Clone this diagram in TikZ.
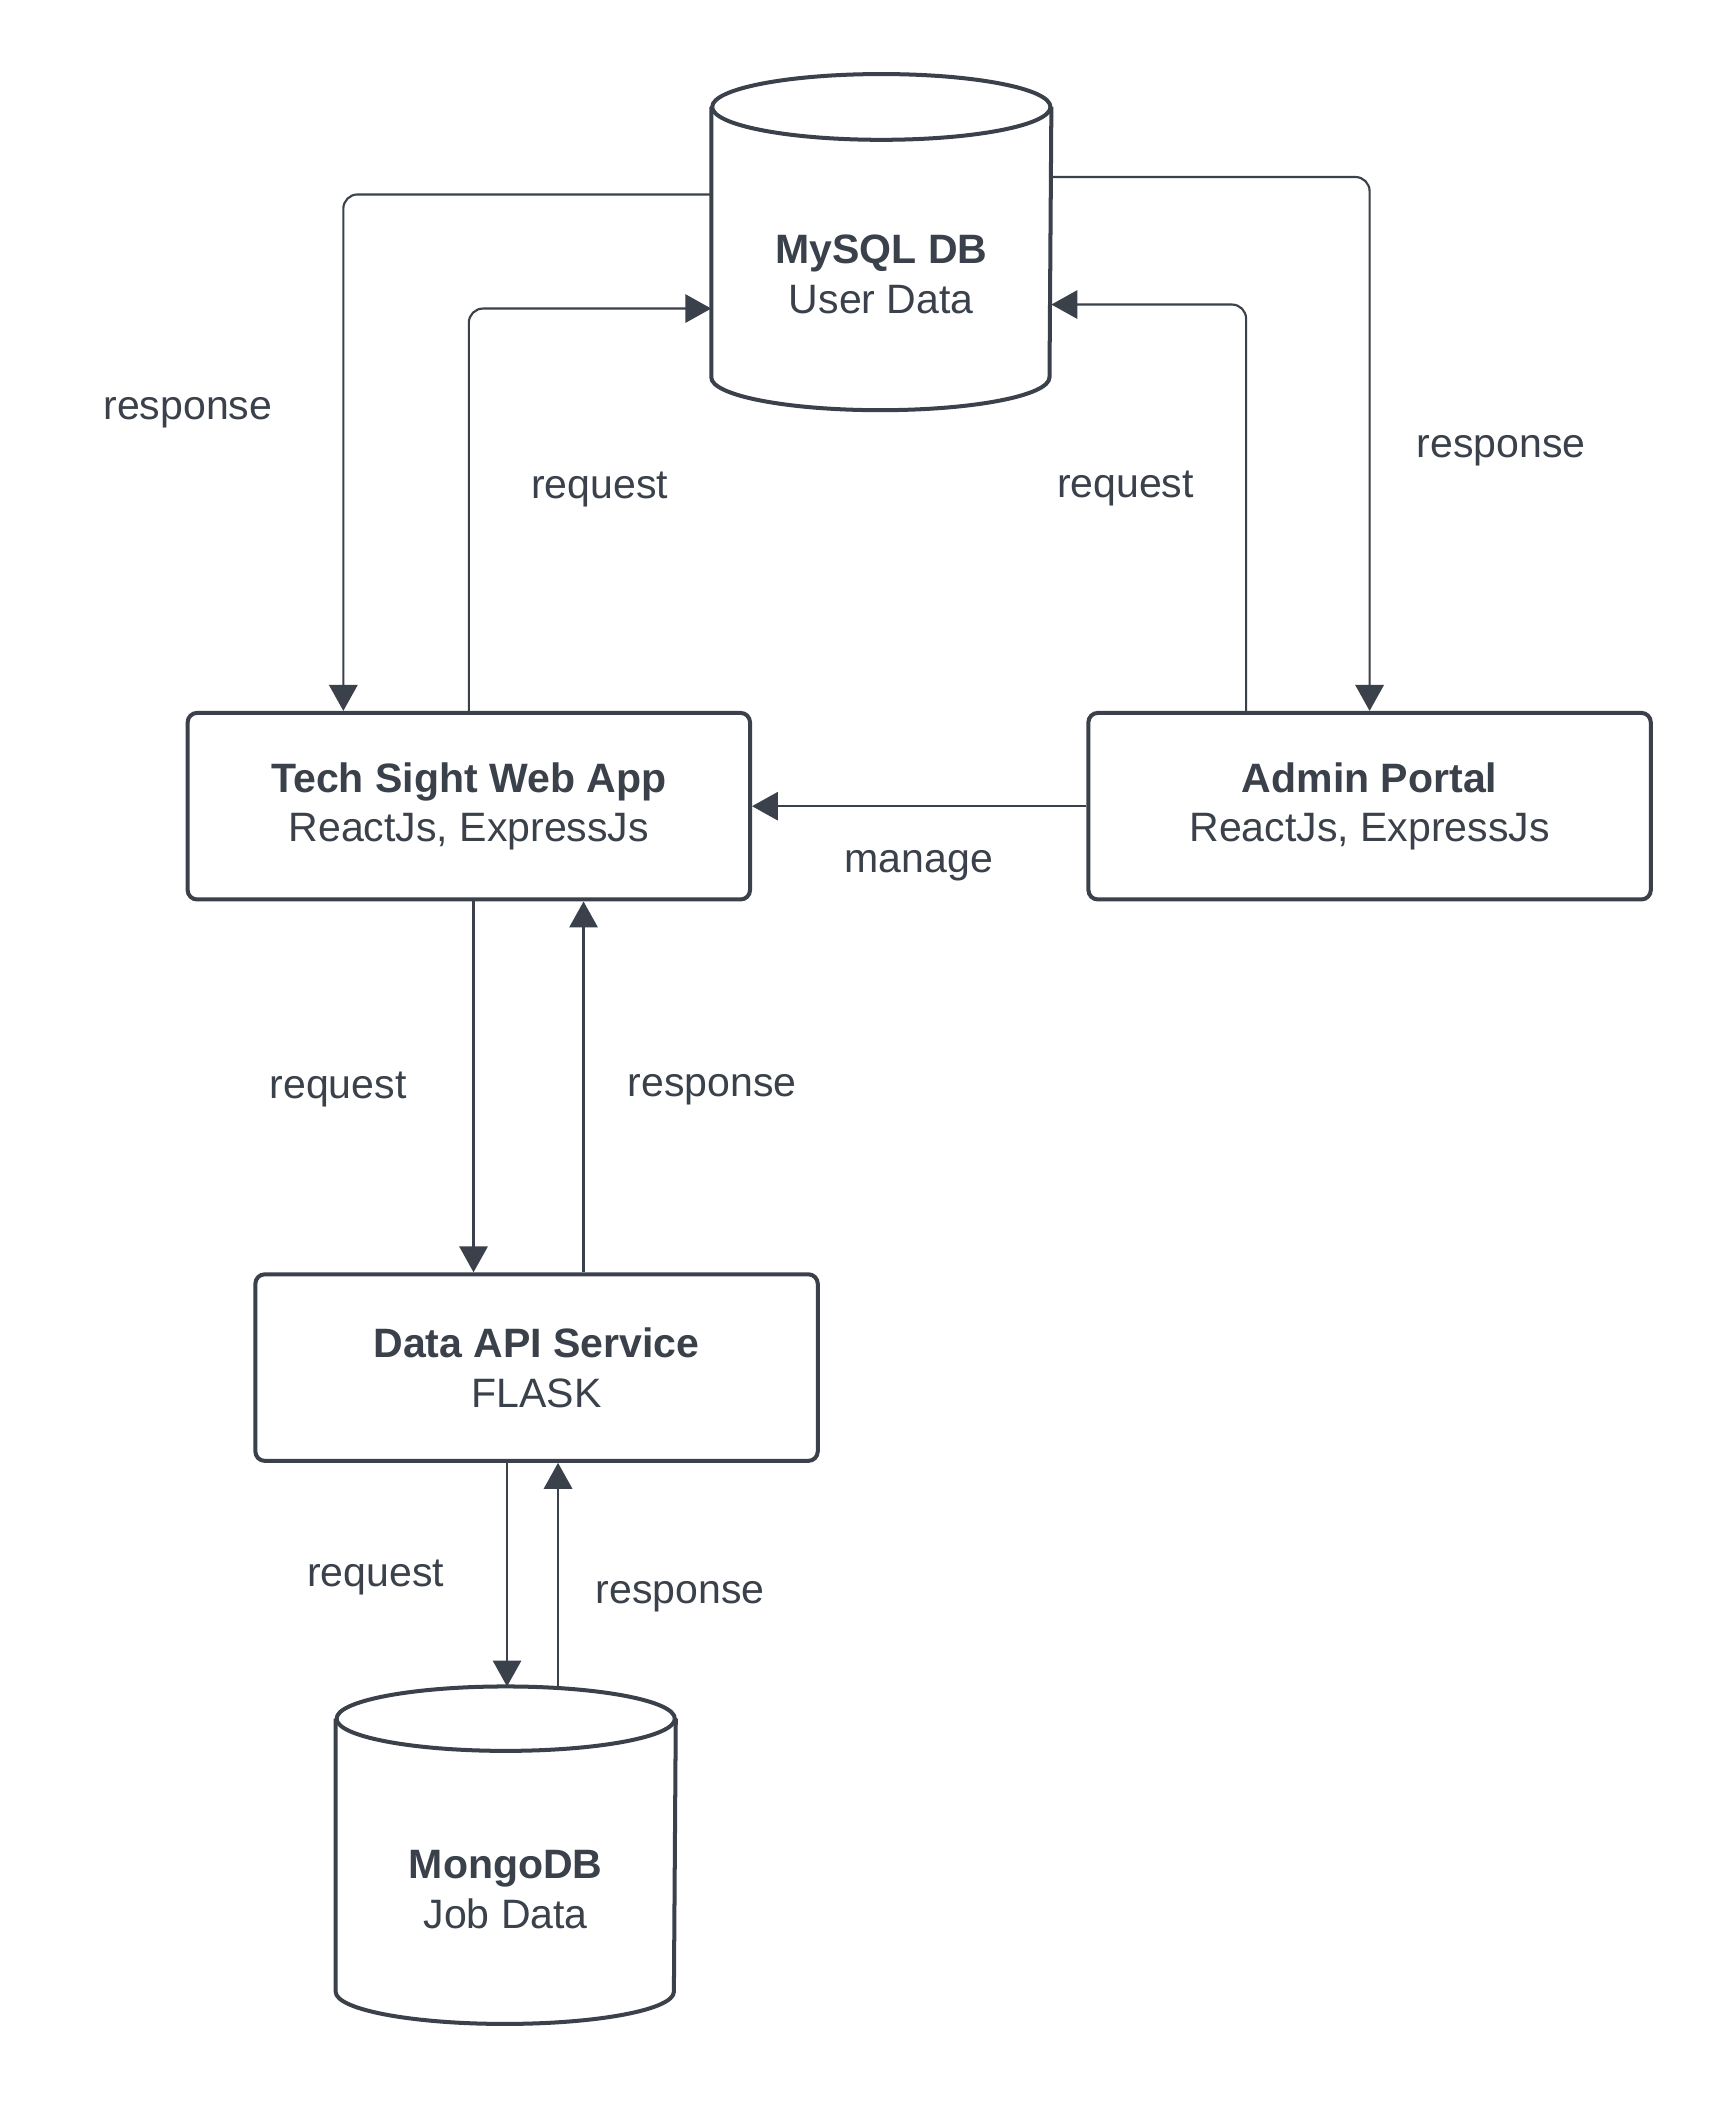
\documentclass[tikz,border=0pt]{standalone}
\usepackage{fontspec}
\setmainfont{Liberation Sans}
\usetikzlibrary{arrows.meta,calc}
\definecolor{ink}{HTML}{3A414A}

\begin{document}
\begin{tikzpicture}[x=0.01cm, y=0.01cm,
                    every node/.style={text=ink, font=\fontsize{8.7}{10.5}\selectfont},
                    main node/.style={rectangle, draw=ink, line width=0.85pt, rounded corners=2pt,
                                      minimum width=4.19cm, minimum height=1.39cm, align=center},
                    db node/.style={rectangle, minimum width=2.52cm, minimum height=2.49cm, inner sep=0pt},
                    db text/.style={align=center},
                    db line/.style={draw=ink, line width=0.85pt, fill=white},
                    link/.style={draw=ink, line width=0.45pt, rounded corners=3pt,
                                 -{Triangle[length=5.5pt,width=6pt]}}]

  \fill[white] (0,0) rectangle (1286,-1567);
  \useasboundingbox (0,0) rectangle (1286,-1567);

  \node[main node] (web) at (349.5,-601) {\textbf{Tech Sight Web App}\\ReactJs, ExpressJs};
  \node[main node] (admin) at (1021,-601) {\textbf{Admin Portal}\\ReactJs, ExpressJs};
  \node[main node] (api) at (400,-1019.5) {\textbf{Data API Service}\\FLASK};
  \node[db node] (mysql) at (657,-180.5) {};
  \node[db node, minimum height=2.5cm] (mongo) at (377,-1383) {};

  % cylinders
  \draw[db line] ($(mysql.north west)+(0,-24.5)$) -- ($(mysql.south west)+(0,24.5)$)
      arc[start angle=180, end angle=360, x radius=1.26cm, y radius=0.245cm]
      -- ($(mysql.north east)+(0,-24.5)$);
  \draw[db line] ($(mysql.north)+(0,-24.5)$) ellipse[x radius=1.26cm, y radius=0.245cm];
  \draw[db line] ($(mongo.north west)+(0,-24)$) -- ($(mongo.south west)+(0,24)$)
      arc[start angle=180, end angle=360, x radius=1.26cm, y radius=0.24cm]
      -- ($(mongo.north east)+(0,-24)$);
  \draw[db line] ($(mongo.north)+(0,-24)$) ellipse[x radius=1.26cm, y radius=0.24cm];

  \node[db text] (mysqltxt) at ($(mysql.center)+(0,-24)$) {\textbf{MySQL DB}\\User Data};
  \node[db text] (mongotxt) at ($(mongo.center)+(0,-25.5)$) {\textbf{MongoDB}\\Job Data};

  % connectors
  \draw[link] ([yshift=0.355cm]mysql.west) -| ([xshift=-0.935cm]web.north);
  \draw[link] (web.north) |- ([yshift=-0.495cm]mysql.west);
  \draw[link] ([yshift=0.485cm]mysql.east) -| (admin.north);
  \draw[link] ([xshift=-0.92cm]admin.north) |- ([yshift=-0.465cm]mysql.east);
  \draw[link] (admin.west) -- (web.east);
  \draw[link] ([xshift=0.035cm]web.south) -- ([xshift=0.035cm]web.south |- api.north);
  \draw[link] ([xshift=0.35cm]api.north) -- ([xshift=0.35cm]api.north |- web.south);
  \draw[link] ([xshift=-0.22cm]api.south) -- ([xshift=-0.22cm]api.south |- mongo.north);
  \draw[link] ([xshift=0.16cm]api.south |- mongo.north) -- ([xshift=0.16cm]api.south);

  % labels
  \node (resp1) at (140,-308) {response};
  \node (req1) at (447,-365) {request};
  \node (req2) at (839,-364) {request};
  \node (resp2) at (1119,-336) {response};
  \node (manage) at (685,-645) {manage};
  \node (req3) at (252,-812) {request};
  \node (resp3) at (531,-812) {response};
  \node (req4) at (280,-1176) {request};
  \node (resp4) at (507,-1190) {response};

\end{tikzpicture}
\end{document}
